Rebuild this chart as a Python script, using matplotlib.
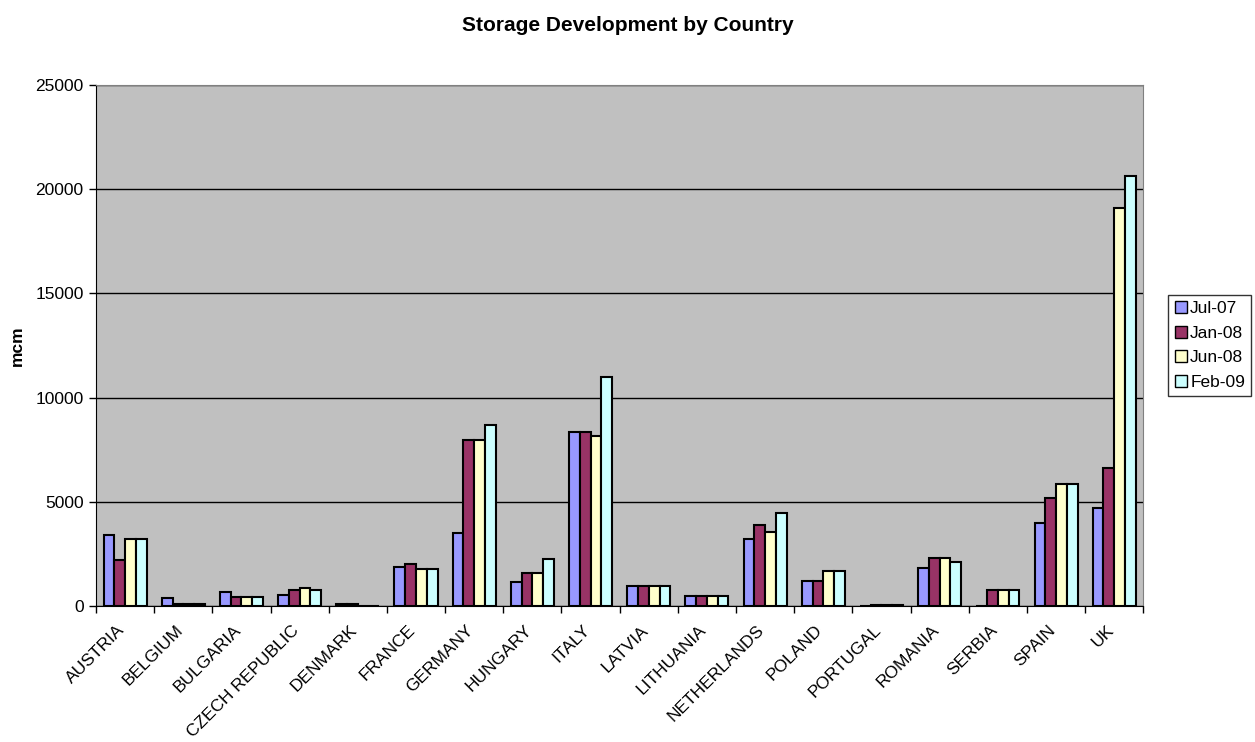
import matplotlib
matplotlib.use('Agg')
import matplotlib.pyplot as plt
import numpy as np

plt.rcParams['font.family'] = ['Liberation Sans', 'DejaVu Sans']

countries = ['AUSTRIA', 'BELGIUM', 'BULGARIA', 'CZECH REPUBLIC', 'DENMARK', 'FRANCE',
             'GERMANY', 'HUNGARY', 'ITALY', 'LATVIA', 'LITHUANIA', 'NETHERLANDS',
             'POLAND', 'PORTUGAL', 'ROMANIA', 'SERBIA', 'SPAIN', 'UK']
periods = ['Jul-07', 'Jan-08', 'Jun-08', 'Feb-09']

jul07 = [3400, 380, 670, 530, 80, 1850, 3500, 1170, 8350, 975, 470, 3200, 1200, 0, 1820, 0, 4000, 4700]
jan08 = [2200, 100, 430, 750, 80, 2000, 7950, 1570, 8350, 975, 470, 3900, 1200, 40, 2320, 760, 5200, 6600]
jun08 = [3200, 100, 430, 880, 20, 1760, 7950, 1570, 8150, 975, 470, 3550, 1700, 40, 2320, 760, 5850, 19100]
feb09 = [3200, 100, 430, 770, 20, 1760, 8700, 2270, 11000, 975, 470, 4450, 1700, 40, 2130, 760, 5850, 20650]

colors = ['#9999FF', '#993366', '#FFFFCC', '#CCFFFF']

fig = plt.figure(figsize=(12.55, 7.42), dpi=100)
ax = fig.add_axes([0.0765, 0.1833, 0.8345, 0.7021])
ax.set_facecolor('#C0C0C0')

x = np.arange(len(countries))
w = 0.185
for i, (vals, lab) in enumerate(zip([jul07, jan08, jun08, feb09], periods)):
    ax.bar(x + (i - 1.5) * w, vals, width=w, color=colors[i], edgecolor='black',
           linewidth=1.5, label=lab, zorder=3)

ax.set_xlim(-0.5, len(countries) - 0.5)
ax.set_ylim(0, 25000)
ax.set_yticks(np.arange(0, 25001, 5000))
ax.yaxis.grid(True, color='black', linewidth=1, zorder=0)
ax.set_axisbelow(True)

ax.set_xticks(x)
ax.set_xticklabels(countries, rotation=45, ha='right', va='baseline',
                   rotation_mode='anchor', fontsize=12.5)
ax.set_xticks(np.arange(-0.5, len(countries)), minor=True)
ax.tick_params(axis='x', which='major', length=0, pad=18)
ax.tick_params(axis='x', which='minor', length=5, direction='out', width=1)
ax.tick_params(axis='y', length=5, direction='out', labelsize=12.5, width=1, pad=4)

for side in ['top', 'right']:
    ax.spines[side].set_color('#808080')
for side in ['left', 'bottom']:
    ax.spines[side].set_color('black')

fig.text(17 / 1255, 1 - 346 / 742, 'mcm', rotation=90, ha='center', va='center',
         fontsize=12.5, fontweight='bold')
fig.text(0.5, 0.965, 'Storage Development by Country', ha='center', va='center',
         fontsize=15, fontweight='bold')

leg = ax.legend(loc='center left', bbox_to_anchor=(1.024, 0.5), fontsize=12.5,
                frameon=True, fancybox=False, edgecolor='black', borderpad=0.35,
                handlelength=0.7, handleheight=0.7, handletextpad=0.2, labelspacing=0.55,
                borderaxespad=0)
leg.get_frame().set_linewidth(1)
for h in leg.legend_handles:
    h.set_linewidth(1)

fig.savefig('out.png', dpi=100)
